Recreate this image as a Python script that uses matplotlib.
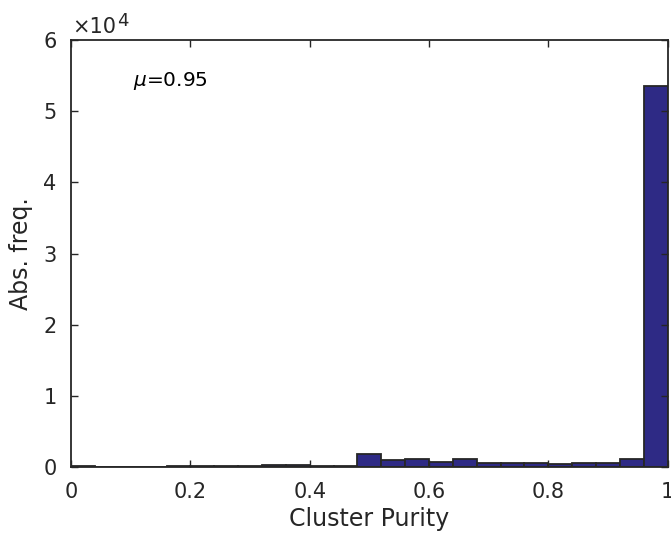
import numpy as np
import matplotlib.pyplot as plt

plt.rcParams['font.family'] = ['DejaVu Sans']

# histogram counts, 25 bins of width 0.04 from 0 to 1
bin_edges = np.linspace(0, 1, 26)
counts = [60, 40, 50, 40, 60, 80, 100, 120, 200, 320, 150, 130,
          1750, 1000, 1080, 700, 1120, 560, 600, 520, 420, 480, 500, 1100, 53500]
xticks = [0, 0.2, 0.4, 0.6, 0.8, 1]
xticklabels = ["0", "0.2", "0.4", "0.6", "0.8", "1"]
yticks = [0, 1e4, 2e4, 3e4, 4e4, 5e4, 6e4]
yticklabels = ["0", "1", "2", "3", "4", "5", "6"]

fig = plt.figure(figsize=(6.71, 5.36), dpi=100)
ax = fig.add_axes([0.106, 0.129, 0.889, 0.796])

ax.bar(bin_edges[:-1], counts, width=0.04, align='edge',
       color="#2e2a85", edgecolor="#262626", linewidth=1.3)

ax.set_xlim(0, 1)
ax.set_ylim(0, 6e4)
ax.set_xticks(xticks)
ax.set_xticklabels(xticklabels)
ax.set_yticks(yticks)
ax.set_yticklabels(yticklabels)
ax.tick_params(direction='in', top=True, right=True, length=5, width=1,
               color="#262626", labelsize=15, labelcolor="#262626")
ax.tick_params(axis='x', pad=11)
ax.tick_params(axis='y', pad=10.5)
for s in ax.spines.values():
    s.set_linewidth(1.3)
    s.set_color("#262626")

ax.set_xlabel("Cluster Purity", fontsize=17, color="#262626", labelpad=3.5)
ax.set_ylabel("Abs. freq.", fontsize=17, color="#262626", labelpad=7)

# exponent label, MATLAB style
ax.annotate("\u00d710", xy=(0, 1), xycoords='axes fraction',
            xytext=(1, 5), textcoords='offset points',
            fontsize=15, color="#262626", ha='left', va='baseline')
ax.annotate("4", xy=(0, 1), xycoords='axes fraction',
            xytext=(33, 10), textcoords='offset points',
            fontsize=13, color="#262626", ha='left', va='baseline')
ax.text(0.104, 0.905, r"$\mu$=0.95", transform=ax.transAxes,
        fontsize=14.5, color="black", ha='left', va='center')

fig.savefig("out.png", dpi=100)
